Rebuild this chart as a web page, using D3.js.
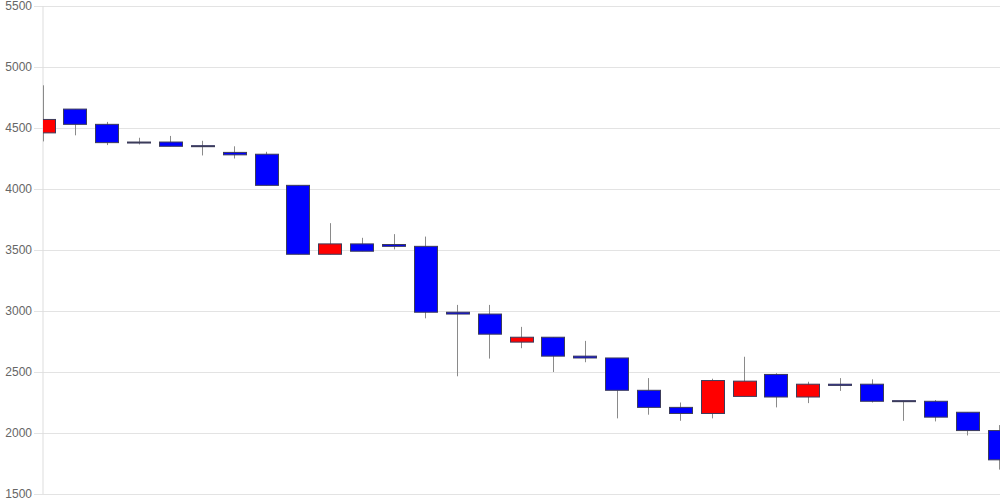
<!DOCTYPE html>
<html>
<head>
<meta charset="utf-8">
<script src="https://cdn.jsdelivr.net/npm/d3@7"></script>
<style>
  body { margin: 0; background: #fff; }
  .axis text { font-family: "Liberation Sans", Arial, sans-serif; font-size: 12px; fill: #666; }
  .grid line { stroke: #e3e3e3; }
  .grid .domain { display: none; }
</style>
</head>
<body>
<div id="chart"></div>
<script>
// candle data (one per session)
let opens  = [4460, 4655, 4530, 4385, 4385, 4355, 4300, 4285, 4030, 3465, 3550, 3545, 3530, 2990, 2975, 2745,
              2785, 2630, 2615, 2350, 2210, 2160, 2300, 2480, 2295, 2400, 2400, 2265, 2260, 2170, 2020];
let highs  = [4850, 4655, 4550, 4420, 4435, 4395, 4350, 4305, 4030, 3720, 3600, 3630, 3610, 3050, 3050, 2870,
              2785, 2755, 2615, 2450, 2250, 2445, 2625, 2490, 2420, 2450, 2440, 2265, 2270, 2170, 2065];
let lows   = [4390, 4440, 4360, 4365, 4350, 4275, 4250, 4030, 3465, 3465, 3490, 3505, 2940, 2465, 2610, 2695,
              2500, 2580, 2120, 2150, 2100, 2120, 2300, 2210, 2245, 2345, 2250, 2100, 2095, 1980, 1700];
let closes = [4570, 4530, 4380, 4380, 4350, 4350, 4280, 4030, 3465, 3550, 3490, 3530, 2990, 2975, 2810, 2785,
              2630, 2615, 2350, 2210, 2160, 2430, 2425, 2295, 2400, 2390, 2260, 2262, 2130, 2020, 1780];
let yTicks = [1500, 2000, 2500, 3000, 3500, 4000, 4500, 5000, 5500];

let margin = {top: 6, right: 0, bottom: 6, left: 43};
let width = 1000 - margin.left - margin.right;
let height = 500 - margin.top - margin.bottom;

let data = opens.map((o, i) => ({i: i, open: o, high: highs[i], low: lows[i], close: closes[i]}));

let svg = d3.select("#chart").append("svg")
	.attr("width", 1000)
	.attr("height", 500)
	.append("g")
	.attr("transform", "translate(" + margin.left + "," + margin.top + ")");

svg.append("defs")
	.append("clipPath")
	.attr("id", "clip")
	.append("rect")
	.attr("x", 0)
	.attr("y", -margin.top)
	.attr("width", width + 2)
	.attr("height", height + margin.top + margin.bottom);

let x = d3.scalePoint()
	.domain(data.map(d => d.i))
	.range([0, width - 1]);

let y = d3.scaleLinear()
	.domain([1500, 5500])
	.range([height, 0]);

let bodyW = 23;

// grid + labels
let yAxis = d3.axisLeft(y)
	.tickValues(yTicks)
	.tickSize(-width)
	.tickPadding(1)
	.tickFormat(d3.format("d"));

let gy = svg.append("g")
	.attr("class", "axis grid")
	.call(yAxis);
gy.selectAll(".tick line").attr("x1", -9);
gy.selectAll(".tick text").attr("x", -11);

// left axis line
svg.append("line")
	.attr("x1", 0).attr("x2", 0)
	.attr("y1", 0).attr("y2", height)
	.attr("stroke", "#ddd");

let plot = svg.append("g").attr("clip-path", "url(#clip)");

// wicks
plot.selectAll(".wick")
	.data(data)
	.enter()
	.append("line")
	.attr("class", "wick")
	.attr("x1", d => Math.round(x(d.i)) + 0.5)
	.attr("x2", d => Math.round(x(d.i)) + 0.5)
	.attr("y1", d => y(d.high))
	.attr("y2", d => y(d.low))
	.attr("stroke", "#8a8a8a")
	.attr("stroke-width", 1);

// bodies
plot.selectAll(".body")
	.data(data)
	.enter()
	.append("rect")
	.attr("class", "body")
	.attr("x", d => Math.round(x(d.i) - bodyW / 2) + 0.5)
	.attr("y", d => y(Math.max(d.open, d.close)))
	.attr("width", bodyW)
	.attr("height", d => Math.max(1, Math.abs(y(d.open) - y(d.close))))
	.attr("fill", d => d.close > d.open ? "#ff0000" : "#0000ff")
	.attr("stroke", "#3c3c5a")
	.attr("stroke-width", 1);
</script>
</body>
</html>
